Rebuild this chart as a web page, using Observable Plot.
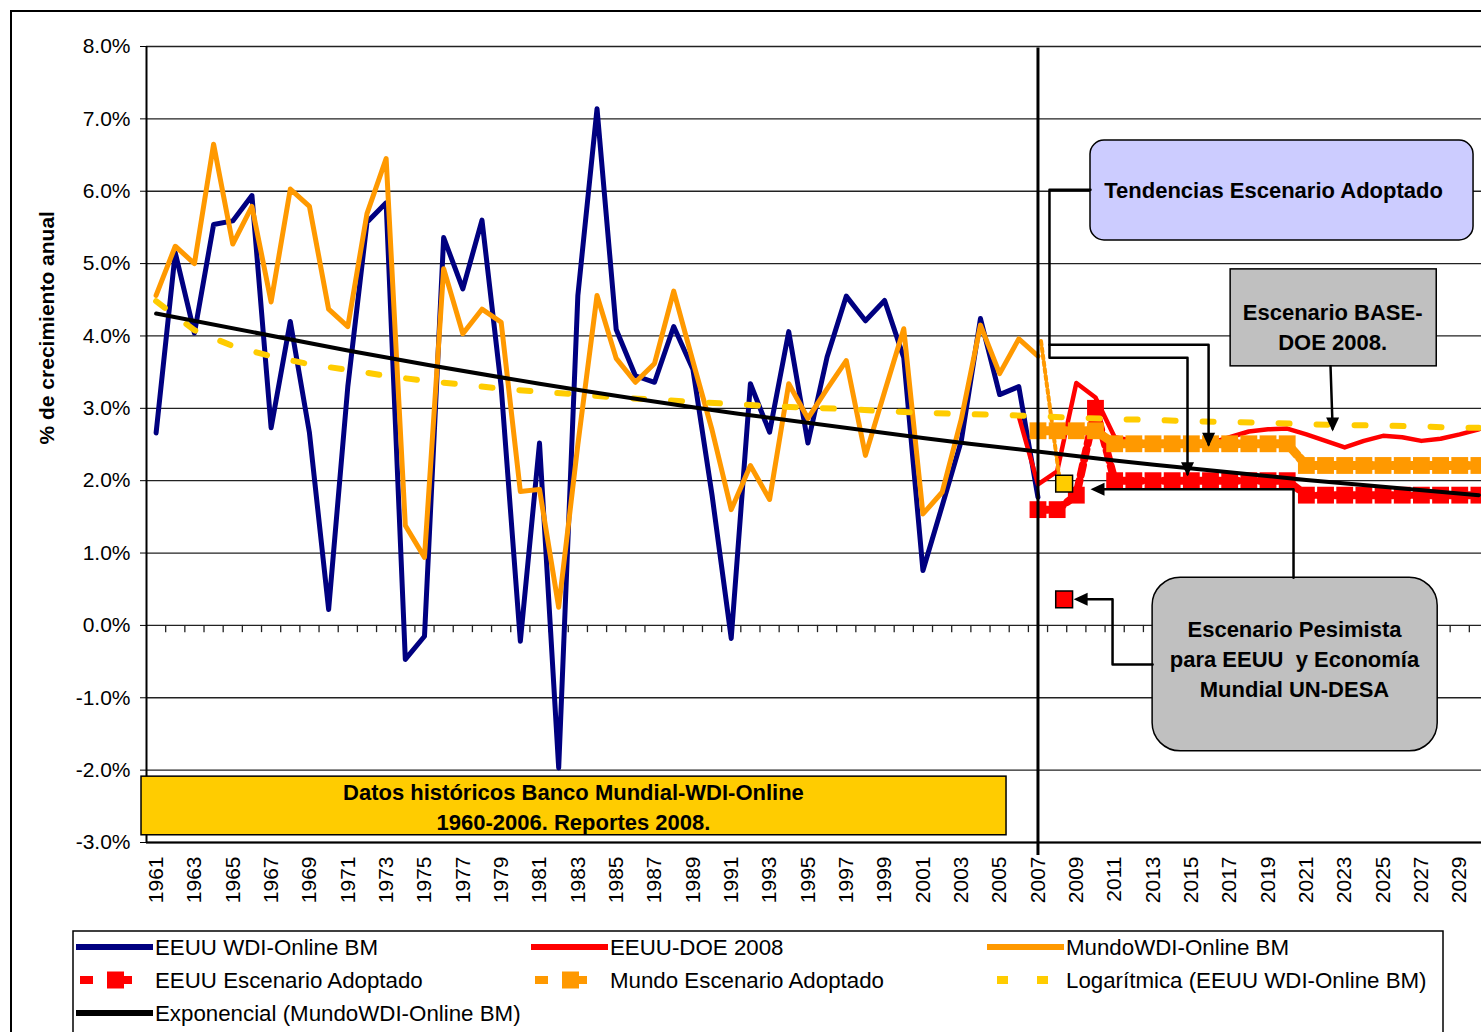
<!DOCTYPE html>
<html><head><meta charset="utf-8">
<script src="https://cdn.jsdelivr.net/npm/d3@7"></script>
<script src="https://cdn.jsdelivr.net/npm/@observablehq/plot@0.6"></script>
<style>
html,body{margin:0;padding:0;background:#fff;overflow:hidden;}
#wrap{position:relative;width:1481px;height:1032px;overflow:hidden;font-family:"Liberation Sans",Arial,sans-serif;}
#chart{position:absolute;left:0;top:0;}
#legend{position:absolute;left:72px;top:930px;}
#frame{position:absolute;left:10px;top:10px;width:1600px;height:1200px;border:2px solid #000;pointer-events:none;}
</style></head>
<body><div id="wrap"><div id="chart"></div><div id="legend"></div><div id="frame"></div></div>
<script>
// ---------- categories ----------
const histYears = d3.range(1961, 2008);          // 1961..2007
const tickYears = d3.range(1961, 2030, 2);       // labelled categories
const allYears  = d3.range(1961, 2031);          // 1961..2030

// ---------- series values (% annual growth) ----------
const usWDI = [2.66,5.15,4.04,5.54,5.59,5.94,2.73,4.20,2.66,0.22,
               3.30,5.57,5.84,-0.47,-0.15,5.36,4.65,5.60,3.30,-0.22,
               2.52,-1.97,4.56,7.14,4.09,3.45,3.36,4.13,3.54,1.80,
               -0.18,3.34,2.67,4.06,2.52,3.71,4.55,4.21,4.49,3.70,
               0.76,1.65,2.55,4.24,3.19,3.30,1.77];
const worldWDI = [4.56,5.24,5.00,6.65,5.27,5.79,4.47,6.03,5.79,4.37,
                  4.13,5.69,6.45,1.38,0.94,4.93,4.03,4.37,4.19,1.85,
                  1.88,0.25,2.50,4.56,3.69,3.36,3.62,4.62,3.65,2.70,
                  1.60,2.21,1.74,3.34,2.86,3.27,3.66,2.35,3.23,4.10,
                  1.54,1.84,2.85,4.15,3.48,3.96,3.72];

const doeYears = d3.range(2006, 2031);
const usDOE2008 = [2.89,1.95,2.13,3.35,3.15,2.60,2.55,2.50,2.50,2.50,
                   2.52,2.60,2.68,2.71,2.72,2.64,2.55,2.46,2.55,2.62,
                   2.60,2.55,2.58,2.64,2.71];

const scenYears = d3.range(2007, 2031);
const usAdopted = [1.60,1.60,1.80,3.00,
                   2.00,2.00,2.00,2.00,2.00,2.00,2.00,2.00,2.00,2.00,
                   1.80,1.80,1.80,1.80,1.80,1.80,1.80,1.80,1.80,1.80];
const worldAdopted = [2.69,2.69,2.69,2.69,
                      2.51,2.51,2.51,2.51,2.51,2.51,2.51,2.51,2.51,2.51,
                      2.21,2.21,2.21,2.21,2.21,2.21,2.21,2.21,2.21,2.21];

// pessimistic UN-DESA scenario
const pesYears = [2007, 2008];
const worldPesimista = [3.93, 1.96];
const usPesimista = [0.36];

// trend lines
const logTrendYears = [1961,1963,1965,1967,1969,1971,1973,1975,1977,1979,1981,1983,1985,1987,1989,1991,1993,1995,1997,1999,2001,2003,2005,2007,2009,2011,2013,2015,2017,2019,2021,2023,2025,2027,2029,2030];
const logTrend = [4.48,4.08,3.86,3.72,3.61,3.53,3.45,3.38,3.33,3.27,3.23,3.19,3.15,3.12,3.09,3.06,3.03,3.01,2.99,2.96,2.94,2.92,2.91,2.89,2.87,2.85,2.84,2.82,2.81,2.80,2.78,2.77,2.76,2.75,2.73,2.73];
const expTrendYears = [1961,1971,1981,1991,2001,2011,2021,2030];
const expTrend = [4.31,3.80,3.34,2.94,2.59,2.28,2.01,1.80];

// ---------- annotations (data units: year, %) ----------
const squareBoxes = [
  {x1:2017.05,x2:2027.80,y1:4.92,y2:3.58,fill:"#C0C0C0"},
  {x1:1960.24,x2:2005.36,y1:-2.09,y2:-2.90,fill:"#FFCC00"}
];
const tendBox = [{x1:2009.74,x2:2029.72,y1:6.70,y2:5.32,fill:"#CCCCFF"}];
const pesBox  = [{x1:2012.98,x2:2027.85,y1:0.66,y2:-1.74,fill:"#C0C0C0"}];
const boxTexts = [
  {x:2019.29,y:6.04,t:"Tendencias Escenario Adoptado"},
  {x:2022.37,y:4.14,t:"Escenario BASE-\nDOE 2008."},
  {x:2020.38,y:-0.44,t:"Escenario Pesimista\npara EEUU  y Economía\nMundial UN-DESA"},
  {x:1982.77,y:-2.49,t:"Datos históricos Banco Mundial-WDI-Online\n1960-2006. Reportes 2008."}
];
const connectors = [
  {id:"t1", pts:[[2009.74,6.02],[2007.60,6.02],[2007.60,3.88],[2015.90,3.88],[2015.90,2.50]]},
  {id:"t2", pts:[[2007.60,3.88],[2007.60,3.70],[2014.80,3.70],[2014.80,2.09]]},
  {id:"b1", pts:[[2022.26,3.58],[2022.37,2.72]]},
  {id:"p1", pts:[[2020.33,0.66],[2020.33,1.88],[2010.0,1.88]]},
  {id:"p2", pts:[[2012.98,-0.54],[2010.89,-0.54],[2010.89,0.36],[2009.1,0.36]]}
];
const arrowDown = [{x:2015.90,y:2.47},{x:2014.80,y:2.06},{x:2022.37,y:2.68}];
const arrowLeft = [{x:2009.74,y:1.88},{x:2008.86,y:0.36}];
const divider = {year:2007, top:7.98, bottom:-3.18};

// ---------- helpers ----------
const toRows = (xs, ys) => xs.map((x, i) => ({x, y: ys[i]}));
const connRows = connectors.flatMap(c => c.pts.map(([x, y]) => ({id: c.id, x, y})));
const downSym = {draw(ctx){ctx.moveTo(0,0);ctx.lineTo(-6.5,-14);ctx.lineTo(6.5,-14);ctx.closePath();}};
const leftSym = {draw(ctx){ctx.moveTo(0,0);ctx.lineTo(14,-6.5);ctx.lineTo(14,6.5);ctx.closePath();}};
const squareSym = {draw(ctx, s){const h = Math.sqrt(s)/2; ctx.rect(-h,-h,2*h,2*h);}};

const NAVY = "#000080", ORANGE = "#FF9900", RED = "#FF0000", GOLD = "#FFCC00";

const chart = Plot.plot({
  width: 1481, height: 925,
  marginLeft: 146, marginRight: 0, marginTop: 46, marginBottom: 83,
  style: {fontFamily: "Liberation Sans, Arial, sans-serif", fontSize: "21px", background: "transparent", color: "#000"},
  x: {domain: [1960.5, 2030.5], range: [146, 1488], ticks: tickYears, tickFormat: d => String(d),
      tickRotate: -90, tickSize: 0, tickPadding: 14, label: null},
  y: {domain: [-3, 8], ticks: d3.range(-3, 9), tickFormat: d => d.toFixed(1) + "%",
      tickSize: 6, tickPadding: 10, label: null},
  marks: [
    Plot.ruleY(d3.range(-3, 9), {stroke: "#222", strokeWidth: 1.3}),
    Plot.ruleY([-3], {stroke: "#000", strokeWidth: 2}),
    Plot.ruleX(allYears.map(y => y + 0.5), {y1: 0, y2: -0.1, stroke: "#222", strokeWidth: 1.3}),
    Plot.ruleX([1960.5], {y1: -3, y2: 8, stroke: "#000", strokeWidth: 2}),
    // historical lines
    Plot.line(toRows(histYears, usWDI), {x: "x", y: "y", stroke: NAVY, strokeWidth: 5}),
    Plot.line(toRows(doeYears, usDOE2008), {x: "x", y: "y", stroke: RED, strokeWidth: 4.5}),
    Plot.line(toRows(histYears, worldWDI), {x: "x", y: "y", stroke: ORANGE, strokeWidth: 5}),
    Plot.line(toRows(pesYears, worldPesimista), {x: "x", y: "y", stroke: ORANGE, strokeWidth: 4, strokeDasharray: "4,3", dx: 3}),
    // adopted scenarios
    Plot.line(toRows(scenYears, usAdopted), {x: "x", y: "y", stroke: RED, strokeWidth: 8, strokeDasharray: "10,6"}),
    Plot.dot(toRows(scenYears, usAdopted), {x: "x", y: "y", symbol: squareSym, r: 9.5, fill: RED}),
    Plot.line(toRows(scenYears, worldAdopted), {x: "x", y: "y", stroke: ORANGE, strokeWidth: 9, strokeDasharray: "12,4"}),
    Plot.dot(toRows(scenYears, worldAdopted), {x: "x", y: "y", symbol: squareSym, r: 9.5, fill: ORANGE}),
    // pessimistic points
    Plot.dot(toRows([2008], [worldPesimista[1]]), {x: "x", y: "y", symbol: squareSym, r: 9.5, fill: GOLD, stroke: "#000", strokeWidth: 1.5, dx: 7}),
    Plot.dot(toRows([2008], usPesimista), {x: "x", y: "y", symbol: squareSym, r: 9.5, fill: RED, stroke: "#000", strokeWidth: 1.5, dx: 7}),
    // trend lines
    Plot.line(toRows(logTrendYears, logTrend), {x: "x", y: "y", stroke: GOLD, strokeWidth: 6, strokeDasharray: "11,27"}),
    Plot.line(toRows(expTrendYears, expTrend), {x: "x", y: "y", stroke: "#000", strokeWidth: 4, curve: "natural"}),
    // 2007 divider
    Plot.ruleX([divider.year], {y1: divider.top, y2: divider.bottom, stroke: "#000", strokeWidth: 3}),
    // annotations
    Plot.rect(squareBoxes, {x1: "x1", x2: "x2", y1: "y1", y2: "y2", fill: "fill", stroke: "#000", strokeWidth: 1.5}),
    Plot.rect(tendBox, {x1: "x1", x2: "x2", y1: "y1", y2: "y2", fill: "fill", stroke: "#000", strokeWidth: 1.5, rx: 14}),
    Plot.rect(pesBox, {x1: "x1", x2: "x2", y1: "y1", y2: "y2", fill: "fill", stroke: "#000", strokeWidth: 1.5, rx: 28}),
    Plot.line(connRows, {x: "x", y: "y", z: "id", stroke: "#000", strokeWidth: 2.5}),
    Plot.dot(arrowDown, {x: "x", y: "y", symbol: downSym, fill: "#000"}),
    Plot.dot(arrowLeft, {x: "x", y: "y", symbol: leftSym, fill: "#000"}),
    Plot.text(boxTexts, {x: "x", y: "y", text: "t", fontWeight: "bold", fontSize: 22, lineHeight: 1.36, fill: "#000"}),
    Plot.text(["% de crecimiento anual"], {frameAnchor: "left", dx: -99, rotate: -90, text: d => d, fontWeight: "bold", fontSize: 21, fill: "#000"})
  ]
});
document.getElementById("chart").appendChild(chart);

// ---------- legend ----------
const legendLabels = ["EEUU WDI-Online BM","EEUU-DOE 2008","MundoWDI-Online BM",
                      "EEUU Escenario Adoptado","Mundo Escenario Adoptado","Logarítmica (EEUU WDI-Online BM)",
                      "Exponencial (MundoWDI-Online BM)"];
const legendKinds  = ["line","line","line","block","block","dash","line"];
const legendColors = [NAVY, RED, ORANGE, RED, ORANGE, GOLD, "#000"];
const colX = [83, 538, 994], rowY = [17, 50, 83];

const lg = d3.select("#legend").append("svg").attr("width", 1400).attr("height", 110)
  .style("font-family", "Liberation Sans, Arial, sans-serif").style("font-size", "22.3px");
lg.append("rect").attr("x", 1).attr("y", 1).attr("width", 1370).attr("height", 140)
  .attr("fill", "#fff").attr("stroke", "#000").attr("stroke-width", 1.5);
legendLabels.forEach((lab, i) => {
  const cx = colX[i % 3], cy = rowY[Math.floor(i / 3)], c = legendColors[i], k = legendKinds[i];
  if (k === "line") {
    lg.append("line").attr("x1", cx - 79).attr("x2", cx - 2).attr("y1", cy).attr("y2", cy)
      .attr("stroke", c).attr("stroke-width", 6);
  } else if (k === "block") {
    lg.append("rect").attr("x", cx - 75).attr("y", cy - 4).attr("width", 13).attr("height", 8).attr("fill", c);
    lg.append("rect").attr("x", cx - 48).attr("y", cy - 8.5).attr("width", 17).attr("height", 17).attr("fill", c);
    lg.append("rect").attr("x", cx - 31).attr("y", cy - 4).attr("width", 8).attr("height", 8).attr("fill", c);
  } else {
    lg.append("rect").attr("x", cx - 69).attr("y", cy - 4).attr("width", 11).attr("height", 8).attr("fill", c);
    lg.append("rect").attr("x", cx - 29).attr("y", cy - 4).attr("width", 11).attr("height", 8).attr("fill", c);
  }
  lg.append("text").attr("x", cx).attr("y", cy).attr("dy", "0.36em").text(lab);
});
</script>
</body></html>
